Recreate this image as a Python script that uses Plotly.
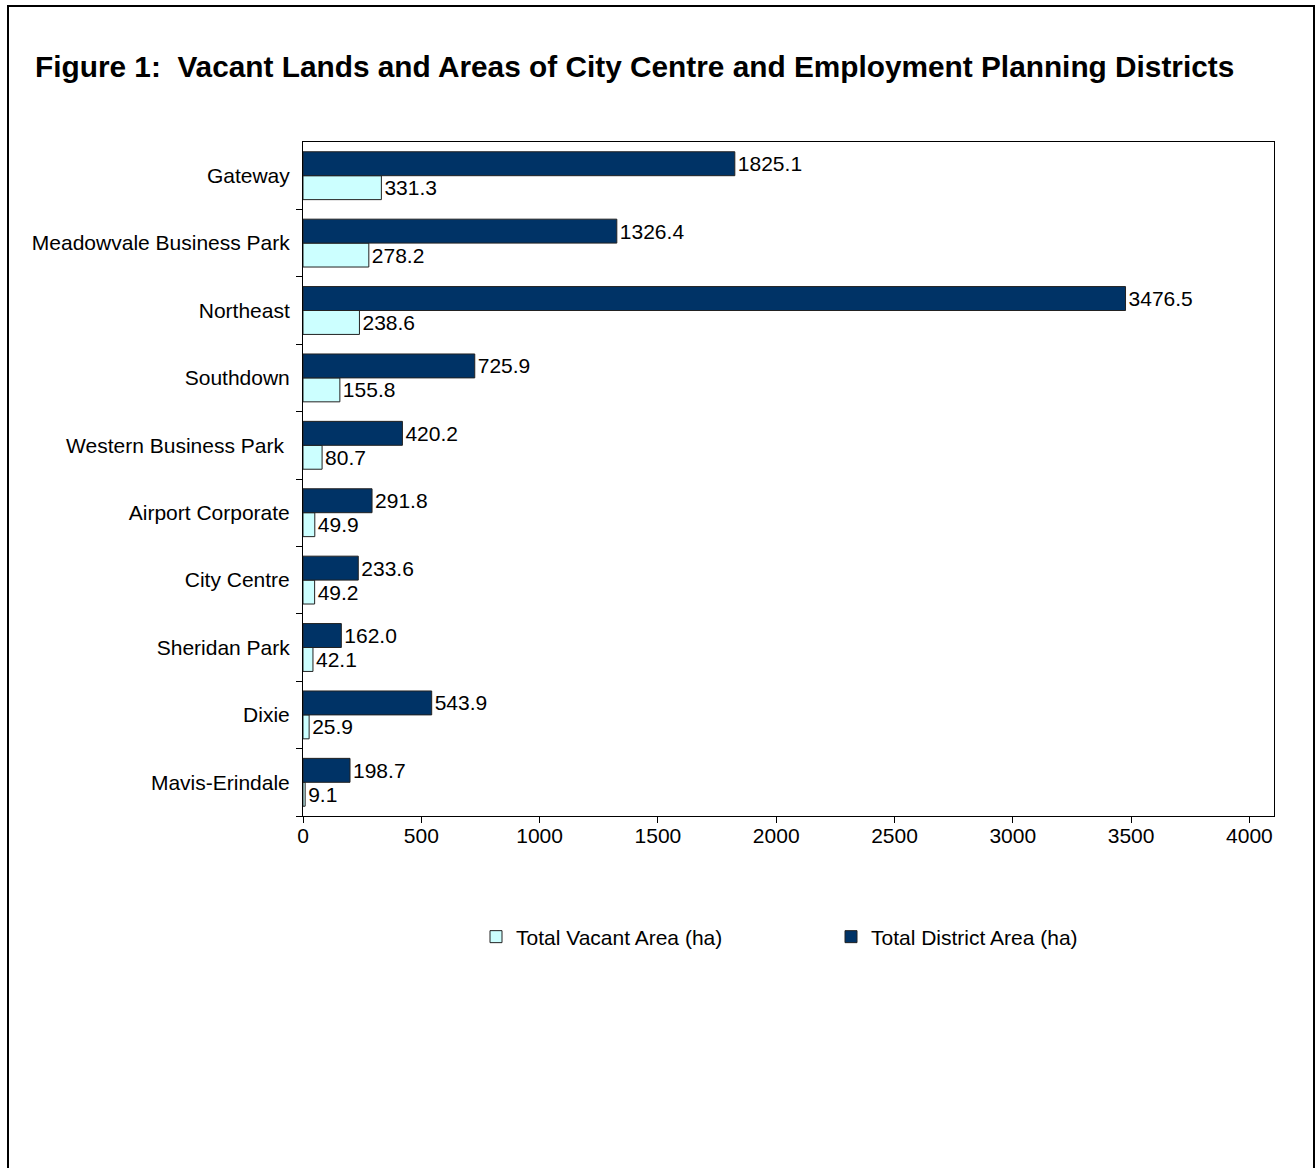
import plotly.graph_objects as go

categories = ["Gateway", "Meadowvale Business Park", "Northeast", "Southdown",
              "Western Business Park", "Airport Corporate", "City Centre",
              "Sheridan Park", "Dixie", "Mavis-Erindale"]
tick_labels = ["Gateway", "Meadowvale Business Park", "Northeast", "Southdown",
               "Western Business Park\u00a0", "Airport Corporate", "City Centre",
               "Sheridan Park", "Dixie", "Mavis-Erindale"]
vacant_area = [331.3, 278.2, 238.6, 155.8, 80.7, 49.9, 49.2, 42.1, 25.9, 9.1]
district_area = [1825.1, 1326.4, 3476.5, 725.9, 420.2, 291.8, 233.6, 162.0, 543.9, 198.7]
x_ticks = [0, 500, 1000, 1500, 2000, 2500, 3000, 3500, 4000]
title_text = "Figure 1:\u00a0\u00a0Vacant Lands and Areas of City Centre and Employment Planning Districts"

W, H = 1316, 1168
L, R, T, B = 303, 42, 142, 352
pw, ph = W - L - R, H - T - B

def px_x(px):
    return (px - L) / pw

def px_y(py):
    return (H - B - py) / ph

FONT = "Arial, Liberation Sans, sans-serif"

fig = go.Figure()
fig.add_trace(go.Bar(
    y=categories, x=vacant_area, orientation="h", name="Total Vacant Area (ha)",
    marker=dict(color="#CCFFFF", line=dict(color="#222222", width=1)),
    texttemplate="%{x:.1f}", textposition="outside", constraintext="none",
    cliponaxis=False,
    textfont=dict(size=21, color="black", family=FONT),
))
fig.add_trace(go.Bar(
    y=categories, x=district_area, orientation="h", name="Total District Area (ha)",
    marker=dict(color="#003366", line=dict(color="#222222", width=1)),
    texttemplate="%{x:.1f}", textposition="outside", constraintext="none",
    cliponaxis=False,
    textfont=dict(size=21, color="black", family=FONT),
))

fig.update_layout(
    width=W, height=H,
    margin=dict(l=L, r=R, t=T, b=B),
    paper_bgcolor="white", plot_bgcolor="white",
    barmode="group", bargap=0.29, bargroupgap=0,
    font=dict(family=FONT, size=21, color="black"),
    showlegend=True,
    legend=dict(orientation="h", x=px_x(476), y=px_y(937), xanchor="left",
                yanchor="middle", entrywidth=310, font=dict(size=21),
                bgcolor="rgba(0,0,0,0)", traceorder="normal"),
    xaxis=dict(range=[0, 4104], tickvals=x_ticks, ticks="outside", ticklen=6,
               tickcolor="black", showline=True, linecolor="black", linewidth=1,
               mirror=True, showgrid=False, zeroline=False,
               ticklabelstandoff=-5, tickfont=dict(size=21)),
    yaxis=dict(categoryorder="array", categoryarray=categories[::-1],
               tickvals=categories, ticktext=tick_labels,
               ticks="outside", ticklen=6, tickson="boundaries",
               tickcolor="black", showline=True, linecolor="black", linewidth=1,
               mirror=True, showgrid=False, zeroline=False,
               ticklabelstandoff=8, tickfont=dict(size=21)),
)

fig.add_annotation(text="<b>" + title_text + "</b>", xref="paper", yref="paper",
                   x=px_x(33), y=px_y(66), xanchor="left", yanchor="middle",
                   showarrow=False, font=dict(size=29.8, family=FONT, color="black"))

fig.add_shape(type="rect", xref="paper", yref="paper",
              x0=px_x(8), x1=px_x(1314), y0=px_y(1180), y1=px_y(6),
              line=dict(color="black", width=2), fillcolor="rgba(0,0,0,0)",
              layer="below")

fig.write_html("out.html")
